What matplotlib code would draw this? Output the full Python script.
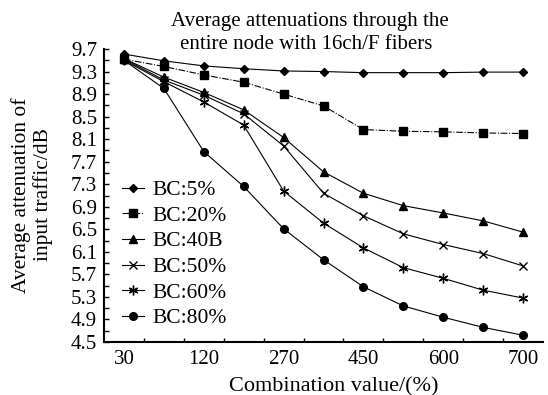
import matplotlib
matplotlib.use('Agg')
import matplotlib.pyplot as plt
import numpy as np

plt.rcParams['font.family'] = ['Liberation Serif', 'DejaVu Serif']

# x tick labels (every second point is labelled)
tick_labels = ['30', '120', '270', '450', '600', '700']

# average attenuation (dB) at the 11 combination values
bc5 = [9.61, 9.49, 9.40, 9.35, 9.31, 9.30, 9.28, 9.28, 9.28, 9.29, 9.29]
bc20 = [9.52, 9.39, 9.24, 9.11, 8.90, 8.69, 8.27, 8.24, 8.23, 8.21, 8.20]
bc40 = [9.53, 9.20, 8.93, 8.62, 8.13, 7.52, 7.14, 6.92, 6.79, 6.65, 6.45]
bc50 = [9.52, 9.15, 8.88, 8.55, 7.98, 7.14, 6.74, 6.42, 6.23, 6.07, 5.85]
bc60 = [9.50, 9.12, 8.76, 8.35, 7.18, 6.61, 6.17, 5.82, 5.63, 5.42, 5.28]
bc80 = [9.50, 9.00, 7.88, 7.26, 6.51, 5.96, 5.48, 5.14, 4.94, 4.76, 4.62]

W, H = 548, 395
fig = plt.figure(figsize=(W / 100, H / 100), dpi=100)
ax = fig.add_axes([104 / W, 1 - 342 / H, (543 - 104) / W, (342 - 49) / H])

x = np.arange(len(bc5))
lw = 0.8
ax.plot(x, bc5, color='black', lw=lw, marker='D', ms=4.5, label='BC:5%')
ax.plot(x, bc20, color='black', lw=lw, ls=(0, (6, 1.5, 1, 1.5)), marker='s', ms=5.5, label='BC:20%')
ax.plot(x, bc40, color='black', lw=lw, marker='^', ms=6, label='BC:40B')
ax.plot(x, bc50, color='black', lw=lw, marker='x', ms=6, mew=1.0, label='BC:50%')
ax.plot(x, bc60, color='black', lw=lw, marker=(6, 2, 0), ms=7, mew=1.0, label='BC:60%')
ax.plot(x, bc80, color='black', lw=lw, marker='o', ms=5.5, label='BC:80%')

ax.set_xlim(-0.5, 10.5)
ax.set_ylim(4.5, 9.7)

ax.set_xticks(x[::2])
ax.set_xticklabels(tick_labels)
ax.set_xticks(np.arange(0.5, 10, 1), minor=True)
ax.tick_params(axis='x', which='major', length=0, pad=6, labelsize=15)
ax.tick_params(axis='x', which='minor', direction='in', length=3, width=1)

yt = np.round(np.arange(4.5, 9.71, 0.4), 1)
ax.set_yticks(yt)
ax.set_yticklabels([f'{v:.1f}' for v in yt])
ax.set_yticks(np.round(np.arange(4.7, 9.7, 0.4), 1), minor=True)
ax.tick_params(axis='y', which='both', direction='in', length=3.5, width=1, pad=5, labelsize=15)

for s in ['top', 'right']:
    ax.spines[s].set_visible(False)
for s in ['left', 'bottom']:
    ax.spines[s].set_linewidth(1.5)

leg = ax.legend(loc='upper left', bbox_to_anchor=(122 / W, 1 - 180 / H),
                bbox_transform=fig.transFigure, frameon=False, fontsize=15.5,
                handlelength=1.0, handletextpad=0.42, labelspacing=0.26,
                borderpad=0, borderaxespad=0)

fig.text(310 / W, 1 - 26 / H, 'Average attenuations through the',
         ha='center', va='baseline', fontsize=15)
fig.text(306 / W, 1 - 49 / H, 'entire node with 16ch/F fibers',
         ha='center', va='baseline', fontsize=15)
fig.text(32 / W, 1 - 195 / H, 'Average attenuation of\ninput traffic/dB',
         rotation=90, ha='center', va='center', fontsize=15.5,
         linespacing=1.1, multialignment='center')
fig.text(334 / W, 1 - 391 / H, 'Combination value/(%)',
         ha='center', va='baseline', fontsize=16)

fig.savefig('out.png', dpi=100)
